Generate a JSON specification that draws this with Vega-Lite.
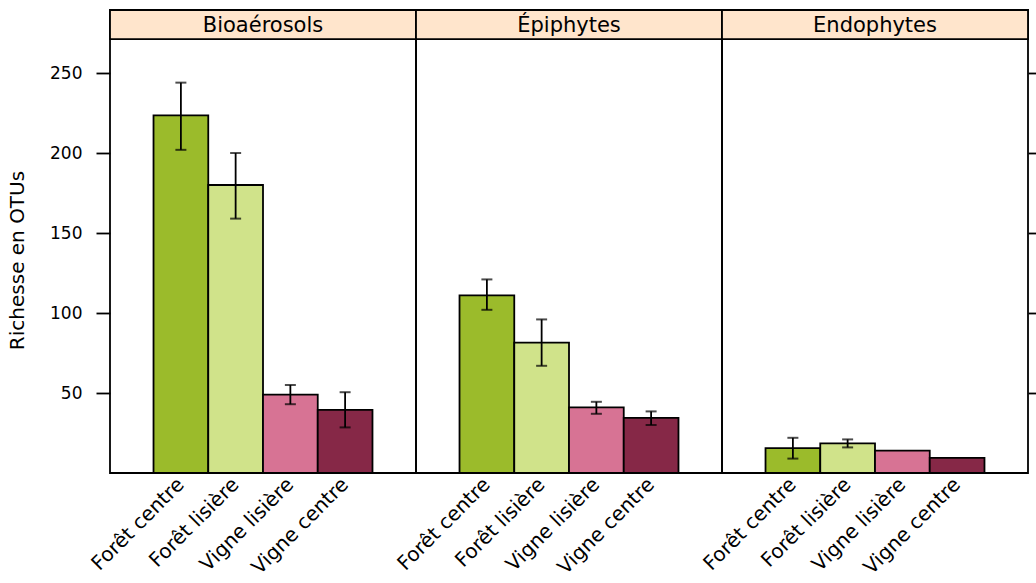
{
  "$schema": "https://vega.github.io/schema/vega-lite/v6.json",
  "padding": {"left": 6, "top": 8, "right": 0, "bottom": 0},
  "background": "white",
  "bounds": "flush",
  "spacing": 0,
  "config": {
    "font": "DejaVu Sans",
    "view": {"stroke": "black", "strokeWidth": 1.8},
    "concat": {"spacing": 0},
    "axisX": {"title": null, "labelAngle": -45, "labelAlign": "right", "labelBaseline": "middle", "labelFontSize": 20, "labelColor": "black", "labelPadding": 8, "ticks": false, "domain": false}
  },
  "data": {
    "values": [
      {"panel": "Bioaérosols", "category": "Forêt centre", "value": 223.5, "lo": 202, "hi": 244},
      {"panel": "Bioaérosols", "category": "Forêt lisière", "value": 180, "lo": 159, "hi": 200},
      {"panel": "Bioaérosols", "category": "Vigne lisière", "value": 49, "lo": 43, "hi": 55},
      {"panel": "Bioaérosols", "category": "Vigne centre", "value": 39.5, "lo": 28.5, "hi": 50.5},
      {"panel": "Épiphytes", "category": "Forêt centre", "value": 111, "lo": 102, "hi": 121},
      {"panel": "Épiphytes", "category": "Forêt lisière", "value": 81.5, "lo": 67, "hi": 96},
      {"panel": "Épiphytes", "category": "Vigne lisière", "value": 41, "lo": 37, "hi": 44.5},
      {"panel": "Épiphytes", "category": "Vigne centre", "value": 34.5, "lo": 30, "hi": 38.5},
      {"panel": "Endophytes", "category": "Forêt centre", "value": 15.5, "lo": 9, "hi": 22},
      {"panel": "Endophytes", "category": "Forêt lisière", "value": 18.5, "lo": 16, "hi": 21},
      {"panel": "Endophytes", "category": "Vigne lisière", "value": 14, "lo": null, "hi": null},
      {"panel": "Endophytes", "category": "Vigne centre", "value": 9.5, "lo": null, "hi": null}
    ]
  },
  "hconcat": [
    {
      "width": 306,
      "height": 463,
      "transform": [{"filter": "datum.panel == 'Bioaérosols'"}],
      "resolve": {"axis": {"y": "independent"}},
      "layer": [
        {
          "transform": [{"filter": "datum.category == 'Forêt centre'"}],
          "mark": {"type": "rect", "fill": "#FFE5CC", "stroke": "black", "strokeWidth": 1.8},
          "encoding": {
            "y": {"datum": 271.25, "type": "quantitative", "scale": {"domain": [0, 289.4], "nice": false}, "axis": null},
            "y2": {"datum": 289.4}
          }
        },
        {
          "transform": [{"filter": "datum.category == 'Forêt centre'"}],
          "mark": {"type": "text", "fontSize": 21, "baseline": "middle", "align": "center", "color": "black", "dy": 1},
          "encoding": {
            "y": {"datum": 280.3, "type": "quantitative", "axis": null},
            "text": {"field": "panel", "type": "nominal"}
          }
        },
        {
          "mark": {"type": "bar", "stroke": "black", "strokeWidth": 1.8},
          "encoding": {
            "x": {"field": "category", "type": "nominal", "sort": ["Forêt centre", "Forêt lisière", "Vigne lisière", "Vigne centre"], "scale": {"paddingInner": 0, "paddingOuter": 0.795}},
            "y": {"field": "value", "type": "quantitative", "scale": {"domain": [0, 289.4], "nice": false},
              "axis": {"orient": "left", "values": [50, 100, 150, 200, 250], "tickSize": 14, "tickWidth": 1.8, "tickColor": "black", "labelFontSize": 17, "labelColor": "black", "labelPadding": 14, "domain": false, "grid": false,
                "title": "Richesse en OTUs", "titleFontSize": 20, "titleFontWeight": "normal", "titleColor": "black", "titlePadding": 22, "titleY": 250}},
            "color": {"field": "category", "type": "nominal", "scale": {"domain": ["Forêt centre", "Forêt lisière", "Vigne lisière", "Vigne centre"], "range": ["#9BBB2B", "#D0E38A", "#D77394", "#862847"]}, "legend": null}
          }
        },
        {
          "transform": [{"filter": "isValid(datum.lo)"}],
          "mark": {"type": "rule", "color": "black", "strokeWidth": 1.8},
          "encoding": {
            "x": {"field": "category", "type": "nominal", "sort": ["Forêt centre", "Forêt lisière", "Vigne lisière", "Vigne centre"]},
            "y": {"field": "lo", "type": "quantitative", "axis": null},
            "y2": {"field": "hi"}
          }
        },
        {
          "transform": [{"filter": "isValid(datum.lo)"}],
          "mark": {"type": "tick", "orient": "horizontal", "color": "black", "size": 11, "thickness": 2},
          "encoding": {
            "x": {"field": "category", "type": "nominal", "sort": ["Forêt centre", "Forêt lisière", "Vigne lisière", "Vigne centre"]},
            "y": {"field": "lo", "type": "quantitative", "axis": null}
          }
        },
        {
          "transform": [{"filter": "isValid(datum.hi)"}],
          "mark": {"type": "tick", "orient": "horizontal", "color": "black", "size": 11, "thickness": 2},
          "encoding": {
            "x": {"field": "category", "type": "nominal", "sort": ["Forêt centre", "Forêt lisière", "Vigne lisière", "Vigne centre"]},
            "y": {"field": "hi", "type": "quantitative", "axis": null}
          }
        }
      ]
    },
    {
      "width": 306,
      "height": 463,
      "transform": [{"filter": "datum.panel == 'Épiphytes'"}],
      "resolve": {"axis": {"y": "independent"}},
      "layer": [
        {
          "transform": [{"filter": "datum.category == 'Forêt centre'"}],
          "mark": {"type": "rect", "fill": "#FFE5CC", "stroke": "black", "strokeWidth": 1.8},
          "encoding": {
            "y": {"datum": 271.25, "type": "quantitative", "scale": {"domain": [0, 289.4], "nice": false}, "axis": null},
            "y2": {"datum": 289.4}
          }
        },
        {
          "transform": [{"filter": "datum.category == 'Forêt centre'"}],
          "mark": {"type": "text", "fontSize": 21, "baseline": "middle", "align": "center", "color": "black", "dy": 1},
          "encoding": {
            "y": {"datum": 280.3, "type": "quantitative", "axis": null},
            "text": {"field": "panel", "type": "nominal"}
          }
        },
        {
          "mark": {"type": "bar", "stroke": "black", "strokeWidth": 1.8},
          "encoding": {
            "x": {"field": "category", "type": "nominal", "sort": ["Forêt centre", "Forêt lisière", "Vigne lisière", "Vigne centre"], "scale": {"paddingInner": 0, "paddingOuter": 0.795}},
            "y": {"field": "value", "type": "quantitative", "scale": {"domain": [0, 289.4], "nice": false}, "axis": null},
            "color": {"field": "category", "type": "nominal", "scale": {"domain": ["Forêt centre", "Forêt lisière", "Vigne lisière", "Vigne centre"], "range": ["#9BBB2B", "#D0E38A", "#D77394", "#862847"]}, "legend": null}
          }
        },
        {
          "transform": [{"filter": "isValid(datum.lo)"}],
          "mark": {"type": "rule", "color": "black", "strokeWidth": 1.8},
          "encoding": {
            "x": {"field": "category", "type": "nominal", "sort": ["Forêt centre", "Forêt lisière", "Vigne lisière", "Vigne centre"]},
            "y": {"field": "lo", "type": "quantitative", "axis": null},
            "y2": {"field": "hi"}
          }
        },
        {
          "transform": [{"filter": "isValid(datum.lo)"}],
          "mark": {"type": "tick", "orient": "horizontal", "color": "black", "size": 11, "thickness": 2},
          "encoding": {
            "x": {"field": "category", "type": "nominal", "sort": ["Forêt centre", "Forêt lisière", "Vigne lisière", "Vigne centre"]},
            "y": {"field": "lo", "type": "quantitative", "axis": null}
          }
        },
        {
          "transform": [{"filter": "isValid(datum.hi)"}],
          "mark": {"type": "tick", "orient": "horizontal", "color": "black", "size": 11, "thickness": 2},
          "encoding": {
            "x": {"field": "category", "type": "nominal", "sort": ["Forêt centre", "Forêt lisière", "Vigne lisière", "Vigne centre"]},
            "y": {"field": "hi", "type": "quantitative", "axis": null}
          }
        }
      ]
    },
    {
      "width": 306,
      "height": 463,
      "transform": [{"filter": "datum.panel == 'Endophytes'"}],
      "resolve": {"axis": {"y": "independent"}},
      "layer": [
        {
          "transform": [{"filter": "datum.category == 'Forêt centre'"}],
          "mark": {"type": "rect", "fill": "#FFE5CC", "stroke": "black", "strokeWidth": 1.8},
          "encoding": {
            "y": {"datum": 271.25, "type": "quantitative", "scale": {"domain": [0, 289.4], "nice": false}, "axis": null},
            "y2": {"datum": 289.4}
          }
        },
        {
          "transform": [{"filter": "datum.category == 'Forêt centre'"}],
          "mark": {"type": "text", "fontSize": 21, "baseline": "middle", "align": "center", "color": "black", "dy": 1},
          "encoding": {
            "y": {"datum": 280.3, "type": "quantitative", "axis": null},
            "text": {"field": "panel", "type": "nominal"}
          }
        },
        {
          "mark": {"type": "bar", "stroke": "black", "strokeWidth": 1.8},
          "encoding": {
            "x": {"field": "category", "type": "nominal", "sort": ["Forêt centre", "Forêt lisière", "Vigne lisière", "Vigne centre"], "scale": {"paddingInner": 0, "paddingOuter": 0.795}},
            "y": {"field": "value", "type": "quantitative", "scale": {"domain": [0, 289.4], "nice": false},
              "axis": {"orient": "right", "values": [50, 100, 150, 200, 250], "tickSize": 14, "tickWidth": 1.8, "tickColor": "black", "labels": false, "domain": false, "grid": false, "title": null}},
            "color": {"field": "category", "type": "nominal", "scale": {"domain": ["Forêt centre", "Forêt lisière", "Vigne lisière", "Vigne centre"], "range": ["#9BBB2B", "#D0E38A", "#D77394", "#862847"]}, "legend": null}
          }
        },
        {
          "transform": [{"filter": "isValid(datum.lo)"}],
          "mark": {"type": "rule", "color": "black", "strokeWidth": 1.8},
          "encoding": {
            "x": {"field": "category", "type": "nominal", "sort": ["Forêt centre", "Forêt lisière", "Vigne lisière", "Vigne centre"]},
            "y": {"field": "lo", "type": "quantitative", "axis": null},
            "y2": {"field": "hi"}
          }
        },
        {
          "transform": [{"filter": "isValid(datum.lo)"}],
          "mark": {"type": "tick", "orient": "horizontal", "color": "black", "size": 11, "thickness": 2},
          "encoding": {
            "x": {"field": "category", "type": "nominal", "sort": ["Forêt centre", "Forêt lisière", "Vigne lisière", "Vigne centre"]},
            "y": {"field": "lo", "type": "quantitative", "axis": null}
          }
        },
        {
          "transform": [{"filter": "isValid(datum.hi)"}],
          "mark": {"type": "tick", "orient": "horizontal", "color": "black", "size": 11, "thickness": 2},
          "encoding": {
            "x": {"field": "category", "type": "nominal", "sort": ["Forêt centre", "Forêt lisière", "Vigne lisière", "Vigne centre"]},
            "y": {"field": "hi", "type": "quantitative", "axis": null}
          }
        }
      ]
    }
  ]
}
